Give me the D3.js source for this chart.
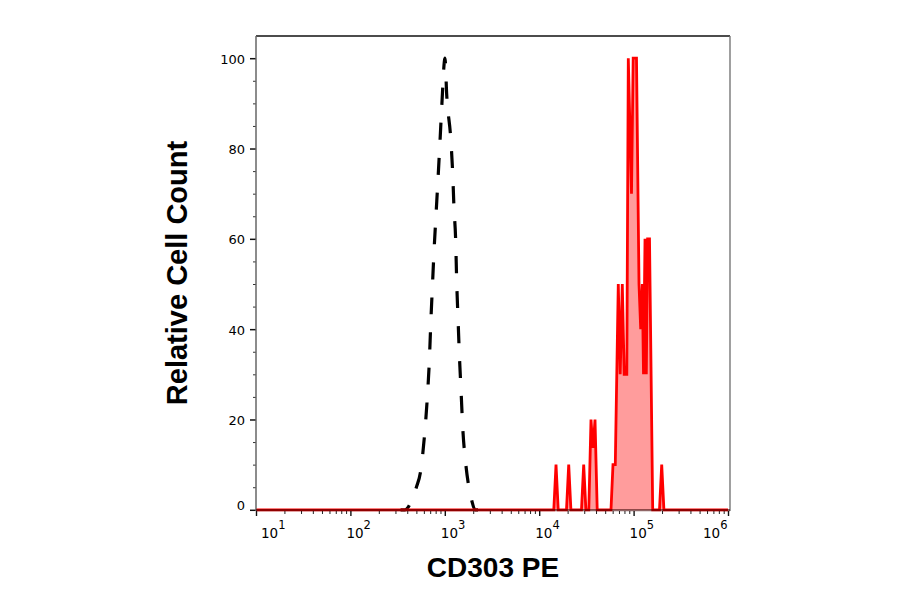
<!DOCTYPE html>
<html><head><meta charset="utf-8">
<script src="https://cdn.jsdelivr.net/npm/d3@7/dist/d3.min.js"></script>
<style>body{margin:0;background:#fff}</style>
</head><body>
<svg id="c" width="900" height="594" xmlns="http://www.w3.org/2000/svg"></svg>
<script>
// ---- data ----
// Isotype control (black dashed): intensity values and relative counts
const isoX = [340, 378, 410, 446, 500, 556, 612, 653, 686, 710, 738, 769, 808, 842, 890, 927, 1005, 1047, 1155, 1213, 1251, 1304, 1336, 1380, 1425, 1486, 1549, 1665, 1800, 1927, 2089, 2250];
const isoY = [0, 0, 0.6, 2.2, 5, 8.7, 16.9, 24.9, 33, 41.2, 49.2, 57.3, 65.5, 72.2, 81.7, 89, 100, 92, 82.3, 74.4, 66.9, 59.6, 50.7, 42.5, 34.6, 26.4, 18.2, 10.3, 5, 2.1, 0, 0];
// CD303 PE stained (red filled histogram)
const cdX = [10, 14280, 15070, 15900, 19460, 20540, 21670, 28050, 29600, 31230, 33530, 35380, 36900, 37300, 39010, 41160,
  57610, 60490, 63970, 68830, 72110, 75900, 79480, 84720, 87870, 94990, 99000, 107300, 114080, 118950, 123690, 127360,
  132110, 136300, 140700, 147370, 159360, 188100, 198500, 209400, 1000000];
const cdY = [0, 0, 10, 0, 0, 10, 0, 0, 10, 0, 0, 20, 14, 14, 20, 0,
  0, 10, 10, 50, 30, 50, 30, 30, 100, 70, 100, 100, 50, 40, 50, 30,
  60, 30, 60, 60, 0, 0, 10, 0, 0];
const yTickVals = [0, 20, 40, 60, 80, 100];
const xDecades = [1, 2, 3, 4, 5, 6];
const xTitle = "CD303 PE";
const yTitle = "Relative Cell Count";

// ---- chart ----
const svg = d3.select("#c");
const L = 256, R = 730, T = 36, B = 511;
const x = d3.scaleLog().domain([10, 1e6]).range([256, 728]);
const y = d3.scaleLinear().domain([0, 100]).range([509.8, 58.2]);

const iso = isoX.map((v, i) => [v, isoY[i]]);
const cd = cdX.map((v, i) => [v, cdY[i]]);

// isotype dashed
svg.append("path")
  .attr("d", d3.line().x(d => x(d[0])).y(d => y(d[1])).curve(d3.curveMonotoneX)(iso))
  .attr("fill", "none").attr("stroke", "#000").attr("stroke-width", 3.2)
  .attr("stroke-dasharray", "17,18").attr("stroke-dashoffset", 6);

// stained filled
svg.append("path")
  .attr("d", d3.area().x(d => x(d[0])).y0(y(0)).y1(d => y(d[1]))(cd))
  .attr("fill", "#ff9c9c").attr("stroke", "none");
svg.append("path")
  .attr("d", d3.line().x(d => x(d[0])).y(d => y(d[1]))(cd))
  .attr("fill", "none").attr("stroke", "#ff0000").attr("stroke-width", 2.8)
  .attr("stroke-linejoin", "miter").attr("stroke-miterlimit", 3);

// frame top and right
svg.append("line").attr("x1", L).attr("x2", R).attr("y1", T).attr("y2", T)
  .attr("stroke", "#111").attr("stroke-width", 1.4);
svg.append("line").attr("x1", R).attr("x2", R).attr("y1", T).attr("y2", B)
  .attr("stroke", "#777").attr("stroke-width", 1.4);

// y axis
const minorY = d3.range(0, 101, 5).filter(v => v % 20 !== 0);
const yAx = svg.append("g").attr("transform", `translate(${L},0)`)
  .call(d3.axisLeft(y).tickValues(yTickVals).tickSize(6).tickSizeOuter(0).tickPadding(5));
yAx.select(".domain").remove();
yAx.selectAll(".tick line").attr("stroke", "#111").attr("stroke-width", 1.5);
yAx.selectAll(".tick text").attr("font-family", "DejaVu Sans, sans-serif").attr("font-size", 13).attr("fill", "#000")
  .attr("dy", (d) => d === 0 ? "-0.05em" : "0.38em");
svg.append("g").attr("transform", `translate(${L},0)`)
  .call(d3.axisLeft(y).tickValues(minorY).tickSize(3).tickFormat(""))
  .call(g => g.select(".domain").remove())
  .selectAll(".tick line").attr("stroke", "#333");
svg.append("line").attr("x1", L).attr("x2", L).attr("y1", T).attr("y2", B)
  .attr("stroke", "#666").attr("stroke-width", 1.5);

// x axis
const majorX = xDecades.map(d => Math.pow(10, d));
const minorX = [];
xDecades.slice(0, -1).forEach(d => { for (let k = 2; k < 10; k++) minorX.push(k * Math.pow(10, d)); });
const xAx = svg.append("g").attr("transform", `translate(0,${B})`)
  .call(d3.axisBottom(x).tickValues(majorX).tickSize(5).tickSizeOuter(0).tickFormat(""));
xAx.select(".domain").remove();
xAx.selectAll(".tick line").attr("stroke", "#111").attr("stroke-width", 1.4);
svg.append("g").attr("transform", `translate(0,${B})`)
  .call(d3.axisBottom(x).tickValues(minorX).tickSize(3).tickFormat(""))
  .call(g => g.select(".domain").remove())
  .selectAll(".tick line").attr("stroke", "#222");
svg.append("line").attr("x1", L).attr("x2", R).attr("y1", B - 0.8).attr("y2", B - 0.8)
  .attr("stroke", "rgba(70,0,0,0.6)").attr("stroke-width", 2.2);

// x tick labels (10 with superscript)
xDecades.forEach((d, i) => {
  const px = x(Math.pow(10, d));
  const off = i === 0 ? 5 : (i === xDecades.length - 1 ? -25 : -4);
  const t = svg.append("text").attr("x", px + off).attr("y", 538)
    .attr("font-family", "DejaVu Sans, sans-serif").attr("font-size", 13.5).attr("fill", "#000");
  t.append("tspan").text("10");
  t.append("tspan").attr("dy", -9.5).attr("font-size", 11.5).text(String(d));
});

// titles
svg.append("text").attr("x", 493).attr("y", 577).attr("text-anchor", "middle")
  .attr("font-family", "Liberation Sans, Arial, sans-serif").attr("font-weight", "bold")
  .attr("font-size", 28).attr("fill", "#000").text(xTitle);
svg.append("text").attr("transform", "translate(187,273) rotate(-90)").attr("text-anchor", "middle")
  .attr("font-family", "Liberation Sans, Arial, sans-serif").attr("font-weight", "bold")
  .attr("font-size", 29).attr("fill", "#000").text(yTitle);
</script>
</body></html>
